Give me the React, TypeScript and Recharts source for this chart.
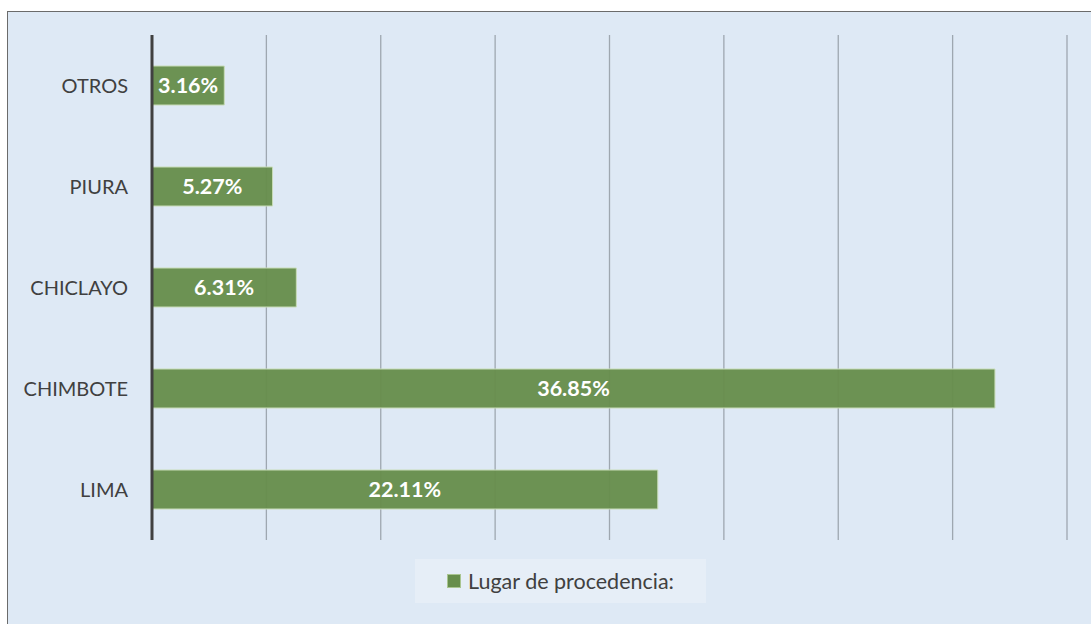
import { Bar, BarChart, CartesianGrid, LabelList, Legend, XAxis, YAxis } from 'recharts';

const lugares = ['OTROS', 'PIURA', 'CHICLAYO', 'CHIMBOTE', 'LIMA'];
const porcentajes = [3.16, 5.27, 6.31, 36.85, 22.11];
const xTicks = [0, 5, 10, 15, 20, 25, 30, 35, 40];
const serieNombre = 'Lugar de procedencia:';

const data = lugares.map((lugar, i) => ({ lugar, valor: porcentajes[i] }));

const FONT = 'Lato, "Open Sans", sans-serif';

function LegendBox() {
  return (
    <div
      style={{
        width: 291,
        height: 44,
        background: '#e6eef7',
        display: 'flex',
        alignItems: 'center',
        justifyContent: 'center',
        gap: 7,
        fontFamily: FONT,
        fontSize: 21.5,
        color: '#404040',
      }}
    >
      <span style={{ display: 'inline-block', width: 12, height: 12, background: '#678e4c', border: '1px solid #a9c590' }} />
      {serieNombre}
    </div>
  );
}

export default function App() {
  return (
    <div style={{ position: 'absolute', left: 0, top: 0, width: 1091, height: 624, background: '#fff', overflow: 'hidden' }}>
      <div
        style={{
          position: 'absolute',
          left: 7,
          top: 11,
          width: 1090,
          height: 620,
          background: '#dee9f5',
          border: '1px solid #6b6b6b',
          boxSizing: 'border-box',
        }}
      >
        <BarChart
          width={1090}
          height={620}
          data={data}
          layout='vertical'
          margin={{ top: 24, right: 30, left: 0, bottom: 47 }}
          style={{ position: 'absolute', left: -1, top: -1 }}
        >
          <CartesianGrid horizontal={false} stroke='#9ea7b0' strokeWidth={1.3} />
          <XAxis type='number' domain={[0, 40]} ticks={xTicks} hide />
          <YAxis
            type='category'
            dataKey='lugar'
            width={145}
            tickLine={false}
            tickSize={0}
            tickMargin={24}
            axisLine={{ stroke: '#404040', strokeWidth: 3 }}
            tick={{ fill: '#404040', fontSize: 20, fontFamily: FONT }}
          />
          <Legend content={<LegendBox />} wrapperStyle={{ left: 408, top: 548, width: 291 }} />
          <Bar
            dataKey='valor'
            name={serieNombre}
            fill='#678e4c'
            fillOpacity={0.96}
            stroke='#c8dcb8'
            strokeWidth={1}
            barSize={39}
            isAnimationActive={false}
          >
            <LabelList
              dataKey='valor'
              position='center'
              formatter={(v: number) => `${v.toFixed(2)}%`}
              fill='#ffffff'
              style={{ fontWeight: 700, fontSize: 21.5, fontFamily: FONT }}
            />
          </Bar>
        </BarChart>
      </div>
    </div>
  );
}
